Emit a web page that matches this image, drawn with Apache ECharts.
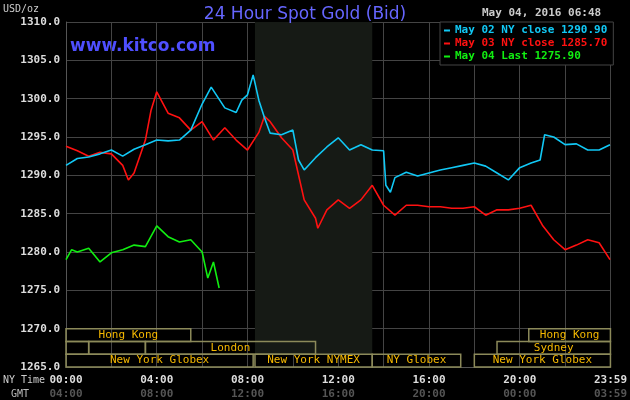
<!DOCTYPE html>
<html><head><meta charset="utf-8">
<script src="https://cdn.jsdelivr.net/npm/echarts@6/dist/echarts.min.js"></script>
<style>html,body{margin:0;background:#000}#c{width:630px;height:400px}</style>
</head><body><div id="c"></div>
<script>
const blueT=[0,0.5,1,1.5,2,2.5,3,3.5,4,4.5,5,5.5,6,6.4,7,7.5,7.75,8,8.25,8.5,8.75,9,9.5,10,10.25,10.5,11,11.5,12,12.5,13,13.5,14,14.1,14.3,14.5,15,15.5,16,16.5,17,17.5,18,18.5,19,19.5,20,20.5,20.9,21.1,21.5,22,22.5,23,23.5,23.98];
const blueV=[1291.3,1292.2,1292.4,1292.8,1293.3,1292.5,1293.4,1294.0,1294.6,1294.5,1294.6,1295.9,1299.3,1301.5,1298.8,1298.2,1299.8,1300.5,1303.1,1299.8,1297.5,1295.5,1295.3,1295.9,1292.0,1290.7,1292.3,1293.7,1294.9,1293.3,1294.0,1293.3,1293.2,1288.7,1287.8,1289.7,1290.4,1289.9,1290.3,1290.7,1291.0,1291.3,1291.6,1291.2,1290.3,1289.4,1291.0,1291.6,1292.0,1295.3,1295.0,1294.0,1294.1,1293.3,1293.3,1294.0];
const redT=[0,0.5,1,1.5,2,2.5,2.75,3,3.5,3.75,4,4.5,5,5.5,6,6.5,7,7.5,8,8.5,8.75,9,9.5,10,10.5,11,11.1,11.5,12,12.5,13,13.5,14,14.5,15,15.5,16,16.5,17,17.5,18,18.5,19,19.5,20,20.5,21,21.5,22,22.5,23,23.5,23.98];
const redV=[1293.8,1293.2,1292.5,1293.0,1292.8,1291.3,1289.4,1290.3,1294.6,1298.5,1300.9,1298.1,1297.5,1295.9,1297.0,1294.6,1296.2,1294.6,1293.3,1295.6,1297.7,1297.0,1294.9,1293.3,1286.8,1284.4,1283.1,1285.5,1286.8,1285.7,1286.8,1288.7,1286.1,1284.8,1286.1,1286.1,1285.9,1285.9,1285.7,1285.7,1285.9,1284.8,1285.5,1285.5,1285.7,1286.1,1283.5,1281.6,1280.3,1280.9,1281.6,1281.2,1279.0];
const greenT=[0,0.25,0.5,1,1.5,2,2.5,3,3.5,4,4.5,5,5.5,6,6.25,6.5,6.75];
const greenV=[1279.0,1280.3,1280.0,1280.5,1278.7,1279.9,1280.3,1280.9,1280.7,1283.4,1282.0,1281.3,1281.6,1280.0,1276.6,1278.7,1275.3];
const nyLabels={0:'00:00',4:'04:00',8:'08:00',12:'12:00',16:'16:00',20:'20:00',24:'23:59'};
const gmtLabels={0:'04:00',4:'08:00',8:'12:00',12:'16:00',16:'20:00',20:'00:00',24:'03:59'};
const sessions=[
 ['Hong Kong',0,5.5,1268.33,1270],['Hong Kong',20.4,24,1268.33,1270],
 ['',0,1.0,1266.67,1268.33],['',1.0,3.5,1266.67,1268.33],['London',3.5,11.0,1266.67,1268.33],['Sydney',19.0,24,1266.67,1268.33],
 ['New York Globex',0,8.25,1265,1266.67],['New York NYMEX',8.33,13.5,1265,1266.67],['NY Globex',13.5,17.4,1265,1266.67],['New York Globex',18.0,24,1265,1266.67]
];
const legendNames=['May 02 NY close 1290.90','May 03 NY close 1285.70','May 04 Last 1275.90'];
const F='DejaVu Sans Mono';
const zip=(t,v)=>t.map((x,i)=>[x,v[i]]);
const ch=echarts.init(document.getElementById('c'));
ch.setOption({
 backgroundColor:'#000',animation:false,
 grid:{left:66,right:10,top:22,bottom:33},
 title:{text:'24 Hour Spot Gold (Bid)',left:300,textAlign:'center',top:1,textStyle:{color:'#6666ff',fontSize:17,fontWeight:'normal',fontFamily:'DejaVu Sans'}},
 legend:{show:true,orient:'vertical',left:440,top:22,itemWidth:6,itemHeight:2,itemGap:2,icon:'rect',
   data:legendNames.map((n,i)=>({name:n,textStyle:{color:['#11c8f5','#ff1111','#11ee11'][i]}})),
   textStyle:{fontFamily:F,fontSize:11,fontWeight:'bold'},
   backgroundColor:'#000',borderColor:'#444',borderWidth:1,padding:[3,6,3,4]},
 graphic:[
  {type:'text',left:3,top:4,style:{text:'USD/oz',fill:'#ccc',font:'10px '+F}},
  {type:'text',left:70,top:38,style:{text:'www.kitco.com',fill:'#4f4fff',font:'bold 17px "DejaVu Sans"'}},
  {type:'text',left:482,top:8,style:{text:'May 04, 2016 06:48',fill:'#ccc',font:'bold 11px '+F}},
  {type:'text',left:3,top:375,style:{text:'NY Time',fill:'#ccc',font:'10px '+F}},
  {type:'text',left:11,top:389,style:{text:'GMT',fill:'#bbb',font:'10px '+F}}
 ],
 xAxis:{type:'value',min:0,max:24,interval:2,
   axisLine:{lineStyle:{color:'#555'}},axisTick:{show:false},
   splitLine:{show:true,lineStyle:{color:'#444'}},
   axisLabel:{margin:6,showMaxLabel:true,formatter:v=>nyLabels[v]?('{a|'+nyLabels[v]+'}\n{b|'+gmtLabels[v]+'}'):'',
     rich:{a:{color:'#ddd',fontFamily:F,fontWeight:'bold',fontSize:11,lineHeight:14},b:{color:'#555',fontFamily:F,fontWeight:'bold',fontSize:11,lineHeight:14}}}},
 yAxis:{type:'value',min:1265,max:1310,interval:5,
   axisLine:{show:true,lineStyle:{color:'#555'}},axisTick:{show:false},
   splitLine:{lineStyle:{color:'#444'}},
   axisLabel:{color:'#ddd',fontFamily:F,fontWeight:'bold',fontSize:11,margin:6,formatter:v=>v.toFixed(1)}},
 series:[
  {type:'line',name:'shade',data:[],silent:true,
   markArea:{silent:true,itemStyle:{color:'#161a15'},data:[[{xAxis:8.33,yAxis:1266.67},{xAxis:13.5,yAxis:1310}]]}},
  {type:'line',name:'sessions',data:[],silent:true,
   markArea:{silent:true,itemStyle:{color:'rgba(0,0,0,0)',borderColor:'#8c8a5a',borderWidth:1.5},
    label:{position:'inside',color:'#f5b800',fontFamily:F,fontSize:11},
    data:sessions.map(s=>[{name:s[0],xAxis:s[1],yAxis:s[3]},{xAxis:s[2],yAxis:s[4]}])}},
  {type:'line',name:legendNames[0],data:zip(blueT,blueV),showSymbol:false,lineStyle:{color:'#11c8f5',width:1.6},itemStyle:{color:'#11c8f5'},z:4},
  {type:'line',name:legendNames[1],data:zip(redT,redV),showSymbol:false,lineStyle:{color:'#ff1111',width:1.6},itemStyle:{color:'#ff1111'},z:3},
  {type:'line',name:legendNames[2],data:zip(greenT,greenV),showSymbol:false,lineStyle:{color:'#11ee11',width:1.6},itemStyle:{color:'#11ee11'},z:5}
 ]
});
</script></body></html>
